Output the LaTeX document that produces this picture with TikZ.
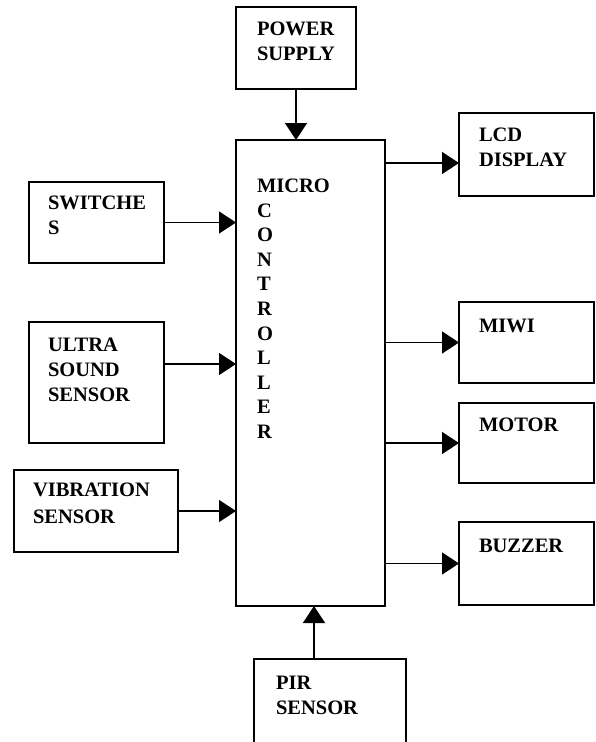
\documentclass[tikz,border=0pt]{standalone}
\usepackage{fontspec}
\setmainfont{Liberation Serif}
\usepackage{tikz}
\usetikzlibrary{arrows.meta, positioning}

\begin{document}
\begin{tikzpicture}[
    x=1pt, y=-1pt,
    box/.style={rectangle, draw=black, line width=1.5pt, inner sep=0pt, outer sep=0pt, anchor=north west},
    lbl/.style={font=\fontsize{20.5}{25}\selectfont\bfseries, align=left, inner sep=0pt, outer sep=0pt},
    arr/.style={-{Triangle[length=17pt, width=22pt]}, line width=1.5pt},
]
    \path[use as bounding box, clip] (0,0) rectangle (596,742);

    % Controller and power
    \node[box, minimum width=120pt, minimum height=82pt] (ps) at (236,7) {};
    \node[box, minimum width=149pt, minimum height=466pt] (mc) at (236,140) {};

    % Inputs (left)
    \node[box, minimum width=135pt, minimum height=81pt] (sw) at (29,182) {};
    \node[box, minimum width=135pt, minimum height=121pt] (us) at (29,322) {};
    \node[box, minimum width=164pt, minimum height=82pt] (vb) at (14,470) {};
    \node[box, minimum width=152pt, minimum height=101pt] (pir) at (254,659) {};

    % Outputs (right)
    \node[box, minimum width=135pt, minimum height=83pt] (lcd) at (459,113) {};
    \node[box, minimum width=135pt, minimum height=81pt] (miwi) at (459,302) {};
    \node[box, minimum width=135pt, minimum height=80pt] (motor) at (459,403) {};
    \node[box, minimum width=135pt, minimum height=83pt] (buzz) at (459,522) {};

    % Labels
    \node[lbl, below right=15pt and 21pt of ps.north west] (pstxt) {POWER\\SUPPLY};
    \node[lbl, font=\fontsize{20.5}{24.6}\selectfont\bfseries, below right=39pt and 21pt of mc.north west] (mctxt)
        {MICRO\\C\\O\\N\\T\\R\\O\\L\\L\\E\\R};
    \node[lbl, below right=14pt and 19pt of sw.north west] (swtxt) {SWITCHE\\S};
    \node[lbl, below right=16pt and 19pt of us.north west] (ustxt) {ULTRA\\SOUND\\SENSOR};
    \node[lbl, font=\fontsize{20.5}{27}\selectfont\bfseries, below right=13pt and 19pt of vb.north west] (vbtxt) {VIBRATION\\SENSOR};
    \node[lbl, below right=17pt and 22pt of pir.north west] (pirtxt) {PIR\\SENSOR};
    \node[lbl, below right=15pt and 20pt of lcd.north west] (lcdtxt) {LCD\\DISPLAY};
    \node[lbl, below right=17pt and 20pt of miwi.north west] (miwitxt) {MIWI};
    \node[lbl, below right=15pt and 20pt of motor.north west] (motortxt) {MOTOR};
    \node[lbl, below right=17pt and 20pt of buzz.north west] (buzztxt) {BUZZER};

    % Arrows into the controller
    \draw[arr] (ps.south) -- (ps.south |- mc.north);
    \draw[arr] (sw.east) -- (sw.east -| mc.west);
    \draw[arr] (us.east |- 0,364) -- (mc.west |- 0,364);
    \draw[arr] (vb.east) -- (vb.east -| mc.west);
    \draw[arr] ([xshift=-16pt]pir.north) -- ([xshift=-16pt]pir.north |- mc.south);

    % Arrows out of the controller
    \draw[arr] (mc.east |- 0,163) -- (lcd.west |- 0,163);
    \draw[arr] (mc.east |- miwi.west) -- (miwi.west);
    \draw[arr] (mc.east |- motor.west) -- (motor.west);
    \draw[arr] (mc.east |- buzz.west) -- (buzz.west);
\end{tikzpicture}
\end{document}
